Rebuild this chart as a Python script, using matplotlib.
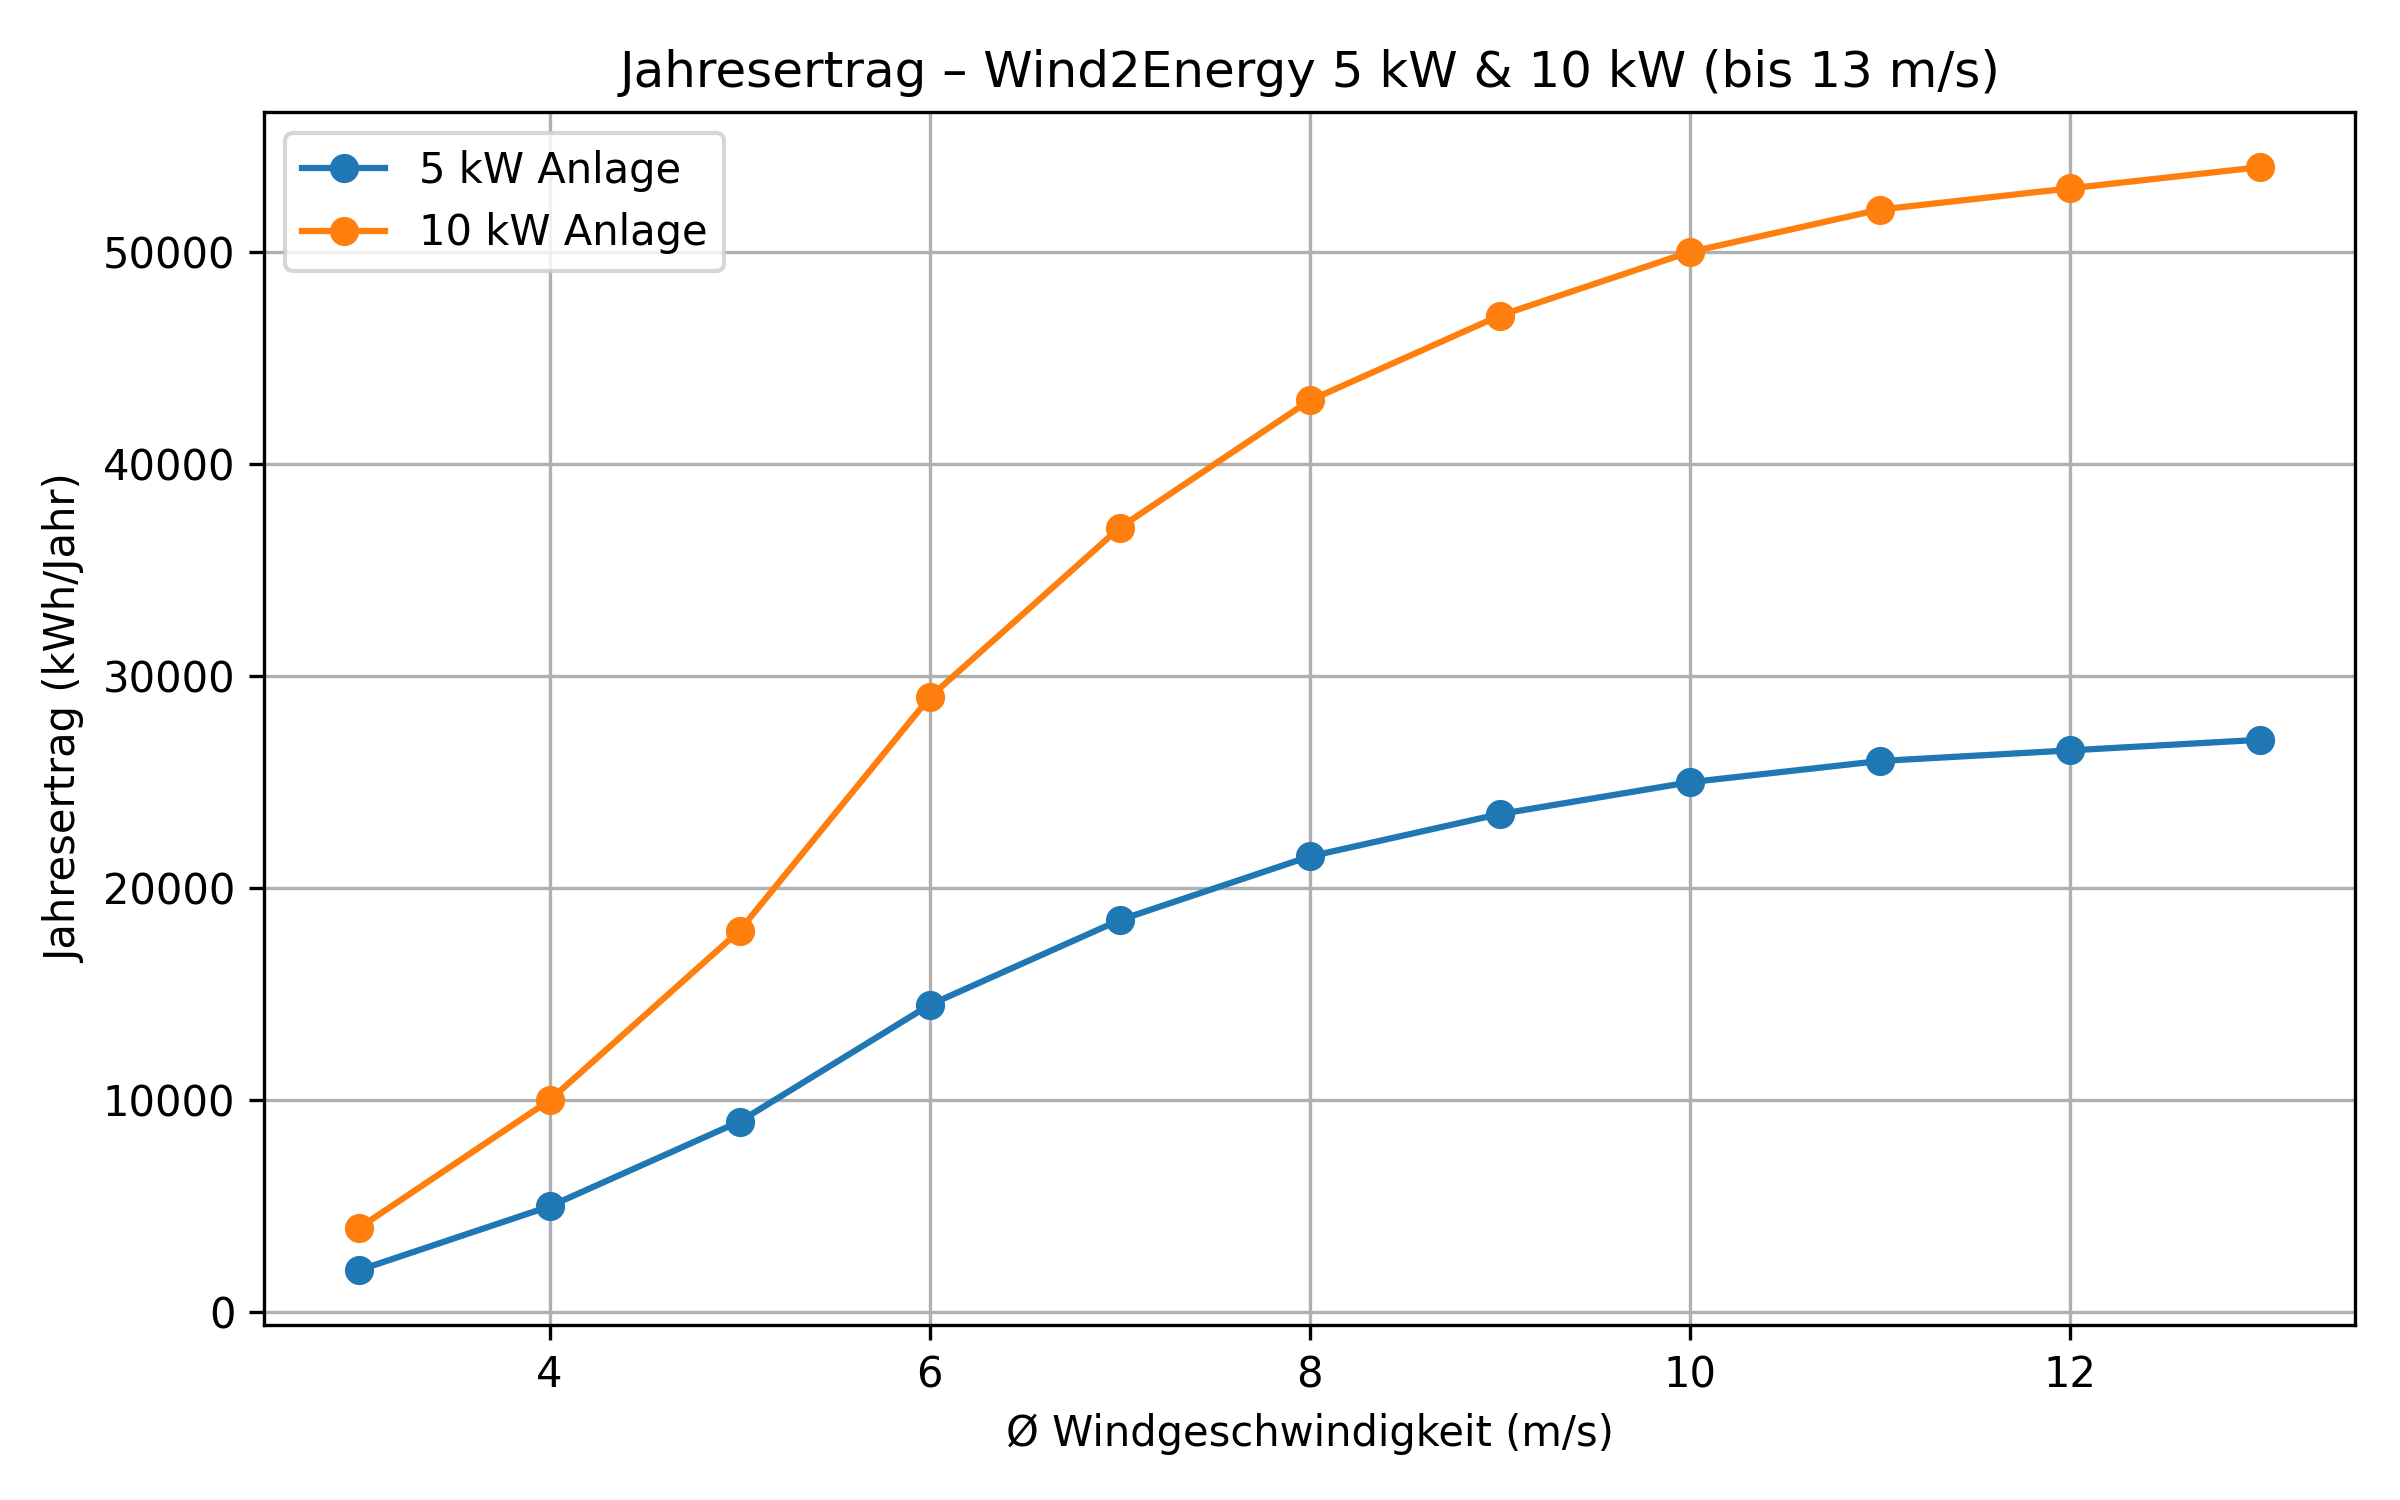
import matplotlib
matplotlib.use("Agg")
import matplotlib.pyplot as plt

wind_speed = [3, 4, 5, 6, 7, 8, 9, 10, 11, 12, 13]
yield_5kw = [2000, 5000, 9000, 14500, 18500, 21500, 23500, 25000, 26000, 26500, 27000]
yield_10kw = [4000, 10000, 18000, 29000, 37000, 43000, 47000, 50000, 52000, 53000, 54000]

fig, ax = plt.subplots(figsize=(8, 5))
ax.plot(wind_speed, yield_5kw, marker='o', label='5 kW Anlage')
ax.plot(wind_speed, yield_10kw, marker='o', label='10 kW Anlage')

ax.set_title('Jahresertrag – Wind2Energy 5 kW & 10 kW (bis 13 m/s)')
ax.set_xlabel('Ø Windgeschwindigkeit (m/s)')
ax.set_ylabel('Jahresertrag (kWh/Jahr)')
ax.grid(True)
ax.legend(loc='upper left')

fig.tight_layout()
fig.savefig('out.png', dpi=300)
